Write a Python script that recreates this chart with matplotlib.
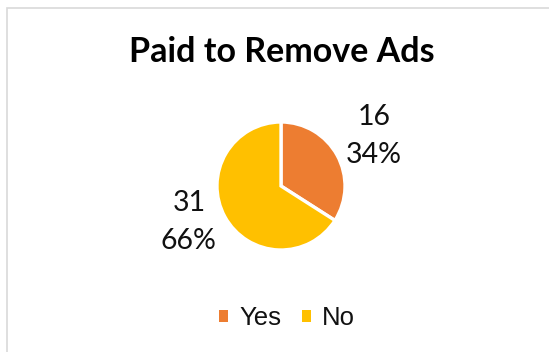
import matplotlib
matplotlib.use("Agg")
import matplotlib.pyplot as plt
from matplotlib.patches import Rectangle

# Survey answers
categories = ["Yes", "No"]
counts = [16, 31]
colors = ["#ED7D31", "#FFC000"]
title = "Paid to Remove Ads"

W, H = 549, 352
fig = plt.figure(figsize=(W / 100, H / 100), dpi=100)
fig.patch.set_facecolor("white")

# chart-area border (left and top edges visible)
fig.patches.append(Rectangle((6.5 / W, -0.1), 1.2, (H - 7.5) / H + 0.1,
                             transform=fig.transFigure, fill=False,
                             edgecolor="#D9D9D9", linewidth=1.2))

# pie axes: centre (281, 186) px, radius 64 px
cx, cy, r = 281, 186, 64
ax = fig.add_axes([(cx - r) / W, (H - cy - r) / H, 2 * r / W, 2 * r / H])
wedges, _ = ax.pie(counts, colors=colors, startangle=90, counterclock=False,
                   radius=1.0,
                   wedgeprops=dict(edgecolor="white", linewidth=2.4))
ax.set_xlim(-1, 1)
ax.set_ylim(-1, 1)
ax.set_aspect("equal")
ax.axis("off")

total = sum(counts)
label_pos = [(1.45, 0.78), (-1.44, -0.56)]
for v, (x, y) in zip(counts, label_pos):
    ax.text(x, y, f"{v}\n{round(100 * v / total)}%", ha="center", va="center",
            fontsize=20.5, family="Lato", linespacing=1.55, color="#111111",
            clip_on=False)

fig.text(282 / W, 1 - 52 / H, title, ha="center", va="center",
         fontsize=24.5, fontweight="bold", family="Lato", color="black")

leg = fig.legend(wedges, categories, loc="center",
                 bbox_to_anchor=(287 / W, 1 - 318 / H), ncol=2, frameon=False,
                 prop=dict(family="Liberation Sans", size=18.5),
                 handlelength=0.34, handleheight=0.34, handletextpad=0.45,
                 columnspacing=0.8, borderpad=0, borderaxespad=0)
for t in leg.get_texts():
    t.set_color("#111111")
for h in leg.legend_handles:
    h.set_edgecolor("none")

fig.savefig("out.png", dpi=100)
